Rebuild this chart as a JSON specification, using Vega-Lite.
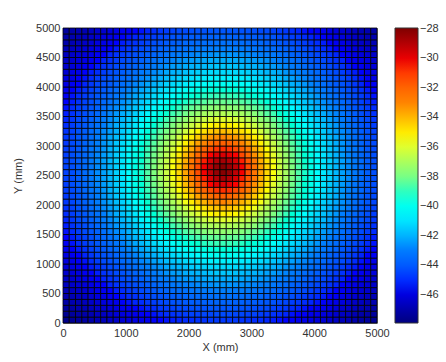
{"$schema":"https://vega.github.io/schema/vega-lite/v6.json","width":314,"height":295,"autosize":"none","padding":{"left":63,"top":28,"right":69,"bottom":39},"background":"white",
"data":{"values":[
{"y":0,"y2":100,"v":[-47.7,-47.5,-47.3,-47.2,-47.0,-46.8,-46.7,-46.5,-46.4,-46.2,-46.1,-45.9,-45.8,-45.7,-45.5,-45.4,-45.3,-45.2,-45.1,-45.0,-45.0,-44.9,-44.9,-44.8,-44.8,-44.8,-44.8,-44.8,-44.9,-44.9,-45.0,-45.0,-45.1,-45.2,-45.3,-45.4,-45.5,-45.7,-45.8,-45.9,-46.1,-46.2,-46.4,-46.5,-46.7,-46.8,-47.0,-47.2,-47.3,-47.5]},
{"y":100,"y2":200,"v":[-47.5,-47.3,-47.1,-47.0,-46.8,-46.6,-46.5,-46.3,-46.1,-46.0,-45.8,-45.7,-45.5,-45.4,-45.3,-45.1,-45.0,-44.9,-44.8,-44.7,-44.6,-44.6,-44.5,-44.5,-44.4,-44.4,-44.4,-44.5,-44.5,-44.6,-44.6,-44.7,-44.8,-44.9,-45.0,-45.1,-45.3,-45.4,-45.5,-45.7,-45.8,-46.0,-46.1,-46.3,-46.5,-46.6,-46.8,-47.0,-47.1,-47.3]},
{"y":200,"y2":300,"v":[-47.3,-47.1,-46.9,-46.8,-46.6,-46.4,-46.3,-46.1,-45.9,-45.7,-45.6,-45.4,-45.3,-45.1,-45.0,-44.8,-44.7,-44.6,-44.4,-44.4,-44.3,-44.2,-44.2,-44.1,-44.1,-44.1,-44.1,-44.1,-44.2,-44.2,-44.3,-44.4,-44.4,-44.6,-44.7,-44.8,-45.0,-45.1,-45.3,-45.4,-45.6,-45.7,-45.9,-46.1,-46.3,-46.4,-46.6,-46.8,-46.9,-47.1]},
{"y":300,"y2":400,"v":[-47.1,-46.9,-46.8,-46.6,-46.4,-46.2,-46.0,-45.8,-45.7,-45.5,-45.3,-45.1,-45.0,-44.8,-44.7,-44.5,-44.4,-44.2,-44.1,-44.0,-43.9,-43.9,-43.8,-43.8,-43.7,-43.7,-43.7,-43.8,-43.8,-43.9,-43.9,-44.0,-44.1,-44.2,-44.4,-44.5,-44.7,-44.8,-45.0,-45.1,-45.3,-45.5,-45.7,-45.8,-46.0,-46.2,-46.4,-46.6,-46.8,-46.9]},
{"y":400,"y2":500,"v":[-47.0,-46.8,-46.6,-46.4,-46.2,-46.0,-45.8,-45.6,-45.4,-45.2,-45.0,-44.9,-44.7,-44.5,-44.3,-44.2,-44.0,-43.9,-43.8,-43.6,-43.6,-43.5,-43.4,-43.4,-43.3,-43.3,-43.3,-43.4,-43.4,-43.5,-43.6,-43.6,-43.8,-43.9,-44.0,-44.2,-44.3,-44.5,-44.7,-44.9,-45.0,-45.2,-45.4,-45.6,-45.8,-46.0,-46.2,-46.4,-46.6,-46.8]},
{"y":500,"y2":600,"v":[-46.8,-46.6,-46.4,-46.2,-46.0,-45.8,-45.6,-45.4,-45.2,-45.0,-44.8,-44.6,-44.4,-44.2,-44.0,-43.8,-43.7,-43.5,-43.4,-43.3,-43.2,-43.1,-43.0,-43.0,-42.9,-42.9,-42.9,-43.0,-43.0,-43.1,-43.2,-43.3,-43.4,-43.5,-43.7,-43.8,-44.0,-44.2,-44.4,-44.6,-44.8,-45.0,-45.2,-45.4,-45.6,-45.8,-46.0,-46.2,-46.4,-46.6]},
{"y":600,"y2":700,"v":[-46.6,-46.4,-46.2,-46.0,-45.8,-45.6,-45.4,-45.1,-44.9,-44.7,-44.5,-44.3,-44.1,-43.9,-43.7,-43.5,-43.3,-43.1,-43.0,-42.9,-42.8,-42.7,-42.6,-42.6,-42.5,-42.5,-42.5,-42.6,-42.6,-42.7,-42.8,-42.9,-43.0,-43.1,-43.3,-43.5,-43.7,-43.9,-44.1,-44.3,-44.5,-44.7,-44.9,-45.1,-45.4,-45.6,-45.8,-46.0,-46.2,-46.4]},
{"y":700,"y2":800,"v":[-46.5,-46.3,-46.0,-45.8,-45.6,-45.4,-45.1,-44.9,-44.7,-44.4,-44.2,-44.0,-43.8,-43.5,-43.3,-43.1,-43.0,-42.8,-42.6,-42.5,-42.4,-42.3,-42.2,-42.1,-42.1,-42.1,-42.1,-42.1,-42.2,-42.3,-42.4,-42.5,-42.6,-42.8,-43.0,-43.1,-43.3,-43.5,-43.8,-44.0,-44.2,-44.4,-44.7,-44.9,-45.1,-45.4,-45.6,-45.8,-46.0,-46.3]},
{"y":800,"y2":900,"v":[-46.3,-46.1,-45.9,-45.6,-45.4,-45.2,-44.9,-44.7,-44.4,-44.2,-43.9,-43.7,-43.5,-43.2,-43.0,-42.8,-42.6,-42.4,-42.3,-42.1,-42.0,-41.9,-41.8,-41.7,-41.6,-41.6,-41.6,-41.7,-41.8,-41.9,-42.0,-42.1,-42.3,-42.4,-42.6,-42.8,-43.0,-43.2,-43.5,-43.7,-43.9,-44.2,-44.4,-44.7,-44.9,-45.2,-45.4,-45.6,-45.9,-46.1]},
{"y":900,"y2":1000,"v":[-46.2,-45.9,-45.7,-45.4,-45.2,-45.0,-44.7,-44.4,-44.2,-43.9,-43.6,-43.4,-43.1,-42.9,-42.7,-42.5,-42.2,-42.0,-41.9,-41.7,-41.5,-41.4,-41.3,-41.2,-41.2,-41.2,-41.2,-41.2,-41.3,-41.4,-41.5,-41.7,-41.9,-42.0,-42.2,-42.5,-42.7,-42.9,-43.1,-43.4,-43.6,-43.9,-44.2,-44.4,-44.7,-45.0,-45.2,-45.4,-45.7,-45.9]},
{"y":1000,"y2":1100,"v":[-46.0,-45.8,-45.5,-45.3,-45.0,-44.7,-44.4,-44.2,-43.9,-43.6,-43.4,-43.1,-42.8,-42.6,-42.3,-42.1,-41.8,-41.6,-41.4,-41.2,-41.1,-40.9,-40.8,-40.7,-40.7,-40.7,-40.7,-40.7,-40.8,-40.9,-41.1,-41.2,-41.4,-41.6,-41.8,-42.1,-42.3,-42.6,-42.8,-43.1,-43.4,-43.6,-43.9,-44.2,-44.4,-44.7,-45.0,-45.3,-45.5,-45.8]},
{"y":1100,"y2":1200,"v":[-45.9,-45.6,-45.4,-45.1,-44.8,-44.5,-44.2,-44.0,-43.7,-43.4,-43.1,-42.8,-42.5,-42.2,-42.0,-41.7,-41.4,-41.2,-41.0,-40.8,-40.6,-40.4,-40.3,-40.1,-40.1,-40.1,-40.1,-40.1,-40.3,-40.4,-40.6,-40.8,-41.0,-41.2,-41.4,-41.7,-42.0,-42.2,-42.5,-42.8,-43.1,-43.4,-43.7,-44.0,-44.2,-44.5,-44.8,-45.1,-45.4,-45.6]},
{"y":1200,"y2":1300,"v":[-45.7,-45.5,-45.2,-44.9,-44.6,-44.3,-44.0,-43.7,-43.4,-43.1,-42.8,-42.5,-42.2,-41.9,-41.6,-41.3,-41.0,-40.8,-40.5,-40.2,-40.0,-39.9,-39.7,-39.6,-39.5,-39.5,-39.5,-39.6,-39.7,-39.9,-40.0,-40.2,-40.5,-40.8,-41.0,-41.3,-41.6,-41.9,-42.2,-42.5,-42.8,-43.1,-43.4,-43.7,-44.0,-44.3,-44.6,-44.9,-45.2,-45.5]},
{"y":1300,"y2":1400,"v":[-45.6,-45.3,-45.0,-44.7,-44.4,-44.1,-43.8,-43.5,-43.2,-42.9,-42.5,-42.2,-41.9,-41.5,-41.2,-40.9,-40.6,-40.3,-40.0,-39.7,-39.5,-39.3,-39.1,-39.0,-38.9,-38.9,-38.9,-39.0,-39.1,-39.3,-39.5,-39.7,-40.0,-40.3,-40.6,-40.9,-41.2,-41.5,-41.9,-42.2,-42.5,-42.9,-43.2,-43.5,-43.8,-44.1,-44.4,-44.7,-45.0,-45.3]},
{"y":1400,"y2":1500,"v":[-45.4,-45.2,-44.9,-44.6,-44.3,-43.9,-43.6,-43.3,-42.9,-42.6,-42.3,-41.9,-41.6,-41.2,-40.9,-40.5,-40.1,-39.8,-39.5,-39.2,-38.9,-38.7,-38.5,-38.3,-38.3,-38.2,-38.3,-38.3,-38.5,-38.7,-38.9,-39.2,-39.5,-39.8,-40.1,-40.5,-40.9,-41.2,-41.6,-41.9,-42.3,-42.6,-42.9,-43.3,-43.6,-43.9,-44.3,-44.6,-44.9,-45.2]},
{"y":1500,"y2":1600,"v":[-45.3,-45.0,-44.7,-44.4,-44.1,-43.8,-43.4,-43.0,-42.7,-42.4,-42.0,-41.6,-41.3,-40.9,-40.5,-40.1,-39.7,-39.3,-39.0,-38.6,-38.3,-38.1,-37.8,-37.7,-37.6,-37.5,-37.6,-37.7,-37.8,-38.1,-38.3,-38.6,-39.0,-39.3,-39.7,-40.1,-40.5,-40.9,-41.3,-41.6,-42.0,-42.4,-42.7,-43.0,-43.4,-43.8,-44.1,-44.4,-44.7,-45.0]},
{"y":1600,"y2":1700,"v":[-45.2,-44.9,-44.6,-44.3,-43.9,-43.6,-43.2,-42.8,-42.5,-42.1,-41.8,-41.4,-41.0,-40.6,-40.1,-39.7,-39.3,-38.8,-38.5,-38.1,-37.7,-37.4,-37.1,-37.0,-36.9,-36.8,-36.9,-37.0,-37.1,-37.4,-37.7,-38.1,-38.5,-38.8,-39.3,-39.7,-40.1,-40.6,-41.0,-41.4,-41.8,-42.1,-42.5,-42.8,-43.2,-43.6,-43.9,-44.3,-44.6,-44.9]},
{"y":1700,"y2":1800,"v":[-45.1,-44.8,-44.4,-44.1,-43.8,-43.4,-43.0,-42.7,-42.3,-41.9,-41.5,-41.1,-40.7,-40.2,-39.7,-39.3,-38.8,-38.3,-37.9,-37.5,-37.0,-36.7,-36.4,-36.2,-36.0,-36.0,-36.0,-36.2,-36.4,-36.7,-37.0,-37.5,-37.9,-38.3,-38.8,-39.3,-39.7,-40.2,-40.7,-41.1,-41.5,-41.9,-42.3,-42.7,-43.0,-43.4,-43.8,-44.1,-44.4,-44.8]},
{"y":1800,"y2":1900,"v":[-45.0,-44.7,-44.3,-44.0,-43.6,-43.3,-42.9,-42.5,-42.1,-41.7,-41.3,-40.9,-40.4,-39.9,-39.4,-38.9,-38.4,-37.9,-37.3,-36.9,-36.4,-36.0,-35.6,-35.3,-35.1,-35.1,-35.1,-35.3,-35.6,-36.0,-36.4,-36.9,-37.3,-37.9,-38.4,-38.9,-39.4,-39.9,-40.4,-40.9,-41.3,-41.7,-42.1,-42.5,-42.9,-43.3,-43.6,-44.0,-44.3,-44.7]},
{"y":1900,"y2":2000,"v":[-44.9,-44.6,-44.2,-43.9,-43.5,-43.1,-42.7,-42.4,-42.0,-41.5,-41.1,-40.6,-40.1,-39.6,-39.1,-38.5,-38.0,-37.4,-36.9,-36.3,-35.7,-35.2,-34.8,-34.4,-34.2,-34.1,-34.2,-34.4,-34.8,-35.2,-35.7,-36.3,-36.9,-37.4,-38.0,-38.5,-39.1,-39.6,-40.1,-40.6,-41.1,-41.5,-42.0,-42.4,-42.7,-43.1,-43.5,-43.9,-44.2,-44.6]},
{"y":2000,"y2":2100,"v":[-44.8,-44.5,-44.1,-43.8,-43.4,-43.0,-42.6,-42.2,-41.8,-41.4,-40.9,-40.4,-39.9,-39.3,-38.8,-38.2,-37.6,-37.0,-36.3,-35.6,-35.0,-34.4,-33.9,-33.4,-33.2,-33.0,-33.2,-33.4,-33.9,-34.4,-35.0,-35.6,-36.3,-37.0,-37.6,-38.2,-38.8,-39.3,-39.9,-40.4,-40.9,-41.4,-41.8,-42.2,-42.6,-43.0,-43.4,-43.8,-44.1,-44.5]},
{"y":2100,"y2":2200,"v":[-44.8,-44.4,-44.1,-43.7,-43.3,-42.9,-42.5,-42.1,-41.6,-41.2,-40.7,-40.2,-39.6,-39.1,-38.5,-37.9,-37.2,-36.5,-35.9,-35.1,-34.3,-33.6,-33.0,-32.4,-32.0,-31.9,-32.0,-32.4,-33.0,-33.6,-34.3,-35.1,-35.9,-36.5,-37.2,-37.9,-38.5,-39.1,-39.6,-40.2,-40.7,-41.2,-41.6,-42.1,-42.5,-42.9,-43.3,-43.7,-44.1,-44.4]},
{"y":2200,"y2":2300,"v":[-44.7,-44.4,-44.0,-43.6,-43.2,-42.9,-42.5,-42.0,-41.6,-41.1,-40.6,-40.0,-39.5,-38.9,-38.3,-37.6,-36.9,-36.2,-35.4,-34.5,-33.7,-32.8,-32.0,-31.4,-30.9,-30.8,-30.9,-31.4,-32.0,-32.8,-33.7,-34.5,-35.4,-36.2,-36.9,-37.6,-38.3,-38.9,-39.5,-40.0,-40.6,-41.1,-41.6,-42.0,-42.5,-42.9,-43.2,-43.6,-44.0,-44.4]},
{"y":2300,"y2":2400,"v":[-44.7,-44.3,-43.9,-43.6,-43.2,-42.8,-42.4,-42.0,-41.5,-41.0,-40.5,-39.9,-39.4,-38.8,-38.1,-37.4,-36.7,-35.9,-35.0,-34.1,-33.2,-32.2,-31.3,-30.4,-29.9,-29.7,-29.9,-30.4,-31.3,-32.2,-33.2,-34.1,-35.0,-35.9,-36.7,-37.4,-38.1,-38.8,-39.4,-39.9,-40.5,-41.0,-41.5,-42.0,-42.4,-42.8,-43.2,-43.6,-43.9,-44.3]},
{"y":2400,"y2":2500,"v":[-44.6,-44.3,-43.9,-43.5,-43.1,-42.7,-42.3,-41.9,-41.4,-41.0,-40.4,-39.9,-39.3,-38.6,-38.0,-37.2,-36.5,-35.6,-34.8,-33.8,-32.7,-31.7,-30.6,-29.7,-29.0,-28.7,-29.0,-29.7,-30.6,-31.7,-32.7,-33.8,-34.8,-35.6,-36.5,-37.2,-38.0,-38.6,-39.3,-39.9,-40.4,-41.0,-41.4,-41.9,-42.3,-42.7,-43.1,-43.5,-43.9,-44.3]},
{"y":2500,"y2":2600,"v":[-44.6,-44.3,-43.9,-43.5,-43.1,-42.7,-42.3,-41.9,-41.4,-40.9,-40.4,-39.8,-39.2,-38.6,-37.9,-37.1,-36.4,-35.5,-34.6,-33.6,-32.5,-31.4,-30.2,-29.2,-28.4,-28.1,-28.4,-29.2,-30.2,-31.4,-32.5,-33.6,-34.6,-35.5,-36.4,-37.1,-37.9,-38.6,-39.2,-39.8,-40.4,-40.9,-41.4,-41.9,-42.3,-42.7,-43.1,-43.5,-43.9,-44.3]},
{"y":2600,"y2":2700,"v":[-44.6,-44.3,-43.9,-43.5,-43.1,-42.7,-42.3,-41.9,-41.4,-40.9,-40.4,-39.8,-39.2,-38.6,-37.9,-37.1,-36.4,-35.5,-34.6,-33.6,-32.5,-31.4,-30.2,-29.2,-28.4,-28.1,-28.4,-29.2,-30.2,-31.4,-32.5,-33.6,-34.6,-35.5,-36.4,-37.1,-37.9,-38.6,-39.2,-39.8,-40.4,-40.9,-41.4,-41.9,-42.3,-42.7,-43.1,-43.5,-43.9,-44.3]},
{"y":2700,"y2":2800,"v":[-44.6,-44.3,-43.9,-43.5,-43.1,-42.7,-42.3,-41.9,-41.4,-41.0,-40.4,-39.9,-39.3,-38.6,-38.0,-37.2,-36.5,-35.6,-34.8,-33.8,-32.7,-31.7,-30.6,-29.7,-29.0,-28.7,-29.0,-29.7,-30.6,-31.7,-32.7,-33.8,-34.8,-35.6,-36.5,-37.2,-38.0,-38.6,-39.3,-39.9,-40.4,-41.0,-41.4,-41.9,-42.3,-42.7,-43.1,-43.5,-43.9,-44.3]},
{"y":2800,"y2":2900,"v":[-44.7,-44.3,-43.9,-43.6,-43.2,-42.8,-42.4,-42.0,-41.5,-41.0,-40.5,-39.9,-39.4,-38.8,-38.1,-37.4,-36.7,-35.9,-35.0,-34.1,-33.2,-32.2,-31.3,-30.4,-29.9,-29.7,-29.9,-30.4,-31.3,-32.2,-33.2,-34.1,-35.0,-35.9,-36.7,-37.4,-38.1,-38.8,-39.4,-39.9,-40.5,-41.0,-41.5,-42.0,-42.4,-42.8,-43.2,-43.6,-43.9,-44.3]},
{"y":2900,"y2":3000,"v":[-44.7,-44.4,-44.0,-43.6,-43.2,-42.9,-42.5,-42.0,-41.6,-41.1,-40.6,-40.0,-39.5,-38.9,-38.3,-37.6,-36.9,-36.2,-35.4,-34.5,-33.7,-32.8,-32.0,-31.4,-30.9,-30.8,-30.9,-31.4,-32.0,-32.8,-33.7,-34.5,-35.4,-36.2,-36.9,-37.6,-38.3,-38.9,-39.5,-40.0,-40.6,-41.1,-41.6,-42.0,-42.5,-42.9,-43.2,-43.6,-44.0,-44.4]},
{"y":3000,"y2":3100,"v":[-44.8,-44.4,-44.1,-43.7,-43.3,-42.9,-42.5,-42.1,-41.6,-41.2,-40.7,-40.2,-39.6,-39.1,-38.5,-37.9,-37.2,-36.5,-35.9,-35.1,-34.3,-33.6,-33.0,-32.4,-32.0,-31.9,-32.0,-32.4,-33.0,-33.6,-34.3,-35.1,-35.9,-36.5,-37.2,-37.9,-38.5,-39.1,-39.6,-40.2,-40.7,-41.2,-41.6,-42.1,-42.5,-42.9,-43.3,-43.7,-44.1,-44.4]},
{"y":3100,"y2":3200,"v":[-44.8,-44.5,-44.1,-43.8,-43.4,-43.0,-42.6,-42.2,-41.8,-41.4,-40.9,-40.4,-39.9,-39.3,-38.8,-38.2,-37.6,-37.0,-36.3,-35.6,-35.0,-34.4,-33.9,-33.4,-33.2,-33.0,-33.2,-33.4,-33.9,-34.4,-35.0,-35.6,-36.3,-37.0,-37.6,-38.2,-38.8,-39.3,-39.9,-40.4,-40.9,-41.4,-41.8,-42.2,-42.6,-43.0,-43.4,-43.8,-44.1,-44.5]},
{"y":3200,"y2":3300,"v":[-44.9,-44.6,-44.2,-43.9,-43.5,-43.1,-42.7,-42.4,-42.0,-41.5,-41.1,-40.6,-40.1,-39.6,-39.1,-38.5,-38.0,-37.4,-36.9,-36.3,-35.7,-35.2,-34.8,-34.4,-34.2,-34.1,-34.2,-34.4,-34.8,-35.2,-35.7,-36.3,-36.9,-37.4,-38.0,-38.5,-39.1,-39.6,-40.1,-40.6,-41.1,-41.5,-42.0,-42.4,-42.7,-43.1,-43.5,-43.9,-44.2,-44.6]},
{"y":3300,"y2":3400,"v":[-45.0,-44.7,-44.3,-44.0,-43.6,-43.3,-42.9,-42.5,-42.1,-41.7,-41.3,-40.9,-40.4,-39.9,-39.4,-38.9,-38.4,-37.9,-37.3,-36.9,-36.4,-36.0,-35.6,-35.3,-35.1,-35.1,-35.1,-35.3,-35.6,-36.0,-36.4,-36.9,-37.3,-37.9,-38.4,-38.9,-39.4,-39.9,-40.4,-40.9,-41.3,-41.7,-42.1,-42.5,-42.9,-43.3,-43.6,-44.0,-44.3,-44.7]},
{"y":3400,"y2":3500,"v":[-45.1,-44.8,-44.4,-44.1,-43.8,-43.4,-43.0,-42.7,-42.3,-41.9,-41.5,-41.1,-40.7,-40.2,-39.7,-39.3,-38.8,-38.3,-37.9,-37.5,-37.0,-36.7,-36.4,-36.2,-36.0,-36.0,-36.0,-36.2,-36.4,-36.7,-37.0,-37.5,-37.9,-38.3,-38.8,-39.3,-39.7,-40.2,-40.7,-41.1,-41.5,-41.9,-42.3,-42.7,-43.0,-43.4,-43.8,-44.1,-44.4,-44.8]},
{"y":3500,"y2":3600,"v":[-45.2,-44.9,-44.6,-44.3,-43.9,-43.6,-43.2,-42.8,-42.5,-42.1,-41.8,-41.4,-41.0,-40.6,-40.1,-39.7,-39.3,-38.8,-38.5,-38.1,-37.7,-37.4,-37.1,-37.0,-36.9,-36.8,-36.9,-37.0,-37.1,-37.4,-37.7,-38.1,-38.5,-38.8,-39.3,-39.7,-40.1,-40.6,-41.0,-41.4,-41.8,-42.1,-42.5,-42.8,-43.2,-43.6,-43.9,-44.3,-44.6,-44.9]},
{"y":3600,"y2":3700,"v":[-45.3,-45.0,-44.7,-44.4,-44.1,-43.8,-43.4,-43.0,-42.7,-42.4,-42.0,-41.6,-41.3,-40.9,-40.5,-40.1,-39.7,-39.3,-39.0,-38.6,-38.3,-38.1,-37.8,-37.7,-37.6,-37.5,-37.6,-37.7,-37.8,-38.1,-38.3,-38.6,-39.0,-39.3,-39.7,-40.1,-40.5,-40.9,-41.3,-41.6,-42.0,-42.4,-42.7,-43.0,-43.4,-43.8,-44.1,-44.4,-44.7,-45.0]},
{"y":3700,"y2":3800,"v":[-45.4,-45.2,-44.9,-44.6,-44.3,-43.9,-43.6,-43.3,-42.9,-42.6,-42.3,-41.9,-41.6,-41.2,-40.9,-40.5,-40.1,-39.8,-39.5,-39.2,-38.9,-38.7,-38.5,-38.3,-38.3,-38.2,-38.3,-38.3,-38.5,-38.7,-38.9,-39.2,-39.5,-39.8,-40.1,-40.5,-40.9,-41.2,-41.6,-41.9,-42.3,-42.6,-42.9,-43.3,-43.6,-43.9,-44.3,-44.6,-44.9,-45.2]},
{"y":3800,"y2":3900,"v":[-45.6,-45.3,-45.0,-44.7,-44.4,-44.1,-43.8,-43.5,-43.2,-42.9,-42.5,-42.2,-41.9,-41.5,-41.2,-40.9,-40.6,-40.3,-40.0,-39.7,-39.5,-39.3,-39.1,-39.0,-38.9,-38.9,-38.9,-39.0,-39.1,-39.3,-39.5,-39.7,-40.0,-40.3,-40.6,-40.9,-41.2,-41.5,-41.9,-42.2,-42.5,-42.9,-43.2,-43.5,-43.8,-44.1,-44.4,-44.7,-45.0,-45.3]},
{"y":3900,"y2":4000,"v":[-45.7,-45.5,-45.2,-44.9,-44.6,-44.3,-44.0,-43.7,-43.4,-43.1,-42.8,-42.5,-42.2,-41.9,-41.6,-41.3,-41.0,-40.8,-40.5,-40.2,-40.0,-39.9,-39.7,-39.6,-39.5,-39.5,-39.5,-39.6,-39.7,-39.9,-40.0,-40.2,-40.5,-40.8,-41.0,-41.3,-41.6,-41.9,-42.2,-42.5,-42.8,-43.1,-43.4,-43.7,-44.0,-44.3,-44.6,-44.9,-45.2,-45.5]},
{"y":4000,"y2":4100,"v":[-45.9,-45.6,-45.4,-45.1,-44.8,-44.5,-44.2,-44.0,-43.7,-43.4,-43.1,-42.8,-42.5,-42.2,-42.0,-41.7,-41.4,-41.2,-41.0,-40.8,-40.6,-40.4,-40.3,-40.1,-40.1,-40.1,-40.1,-40.1,-40.3,-40.4,-40.6,-40.8,-41.0,-41.2,-41.4,-41.7,-42.0,-42.2,-42.5,-42.8,-43.1,-43.4,-43.7,-44.0,-44.2,-44.5,-44.8,-45.1,-45.4,-45.6]},
{"y":4100,"y2":4200,"v":[-46.0,-45.8,-45.5,-45.3,-45.0,-44.7,-44.4,-44.2,-43.9,-43.6,-43.4,-43.1,-42.8,-42.6,-42.3,-42.1,-41.8,-41.6,-41.4,-41.2,-41.1,-40.9,-40.8,-40.7,-40.7,-40.7,-40.7,-40.7,-40.8,-40.9,-41.1,-41.2,-41.4,-41.6,-41.8,-42.1,-42.3,-42.6,-42.8,-43.1,-43.4,-43.6,-43.9,-44.2,-44.4,-44.7,-45.0,-45.3,-45.5,-45.8]},
{"y":4200,"y2":4300,"v":[-46.2,-45.9,-45.7,-45.4,-45.2,-45.0,-44.7,-44.4,-44.2,-43.9,-43.6,-43.4,-43.1,-42.9,-42.7,-42.5,-42.2,-42.0,-41.9,-41.7,-41.5,-41.4,-41.3,-41.2,-41.2,-41.2,-41.2,-41.2,-41.3,-41.4,-41.5,-41.7,-41.9,-42.0,-42.2,-42.5,-42.7,-42.9,-43.1,-43.4,-43.6,-43.9,-44.2,-44.4,-44.7,-45.0,-45.2,-45.4,-45.7,-45.9]},
{"y":4300,"y2":4400,"v":[-46.3,-46.1,-45.9,-45.6,-45.4,-45.2,-44.9,-44.7,-44.4,-44.2,-43.9,-43.7,-43.5,-43.2,-43.0,-42.8,-42.6,-42.4,-42.3,-42.1,-42.0,-41.9,-41.8,-41.7,-41.6,-41.6,-41.6,-41.7,-41.8,-41.9,-42.0,-42.1,-42.3,-42.4,-42.6,-42.8,-43.0,-43.2,-43.5,-43.7,-43.9,-44.2,-44.4,-44.7,-44.9,-45.2,-45.4,-45.6,-45.9,-46.1]},
{"y":4400,"y2":4500,"v":[-46.5,-46.3,-46.0,-45.8,-45.6,-45.4,-45.1,-44.9,-44.7,-44.4,-44.2,-44.0,-43.8,-43.5,-43.3,-43.1,-43.0,-42.8,-42.6,-42.5,-42.4,-42.3,-42.2,-42.1,-42.1,-42.1,-42.1,-42.1,-42.2,-42.3,-42.4,-42.5,-42.6,-42.8,-43.0,-43.1,-43.3,-43.5,-43.8,-44.0,-44.2,-44.4,-44.7,-44.9,-45.1,-45.4,-45.6,-45.8,-46.0,-46.3]},
{"y":4500,"y2":4600,"v":[-46.6,-46.4,-46.2,-46.0,-45.8,-45.6,-45.4,-45.1,-44.9,-44.7,-44.5,-44.3,-44.1,-43.9,-43.7,-43.5,-43.3,-43.1,-43.0,-42.9,-42.8,-42.7,-42.6,-42.6,-42.5,-42.5,-42.5,-42.6,-42.6,-42.7,-42.8,-42.9,-43.0,-43.1,-43.3,-43.5,-43.7,-43.9,-44.1,-44.3,-44.5,-44.7,-44.9,-45.1,-45.4,-45.6,-45.8,-46.0,-46.2,-46.4]},
{"y":4600,"y2":4700,"v":[-46.8,-46.6,-46.4,-46.2,-46.0,-45.8,-45.6,-45.4,-45.2,-45.0,-44.8,-44.6,-44.4,-44.2,-44.0,-43.8,-43.7,-43.5,-43.4,-43.3,-43.2,-43.1,-43.0,-43.0,-42.9,-42.9,-42.9,-43.0,-43.0,-43.1,-43.2,-43.3,-43.4,-43.5,-43.7,-43.8,-44.0,-44.2,-44.4,-44.6,-44.8,-45.0,-45.2,-45.4,-45.6,-45.8,-46.0,-46.2,-46.4,-46.6]},
{"y":4700,"y2":4800,"v":[-47.0,-46.8,-46.6,-46.4,-46.2,-46.0,-45.8,-45.6,-45.4,-45.2,-45.0,-44.9,-44.7,-44.5,-44.3,-44.2,-44.0,-43.9,-43.8,-43.6,-43.6,-43.5,-43.4,-43.4,-43.3,-43.3,-43.3,-43.4,-43.4,-43.5,-43.6,-43.6,-43.8,-43.9,-44.0,-44.2,-44.3,-44.5,-44.7,-44.9,-45.0,-45.2,-45.4,-45.6,-45.8,-46.0,-46.2,-46.4,-46.6,-46.8]},
{"y":4800,"y2":4900,"v":[-47.1,-46.9,-46.8,-46.6,-46.4,-46.2,-46.0,-45.8,-45.7,-45.5,-45.3,-45.1,-45.0,-44.8,-44.7,-44.5,-44.4,-44.2,-44.1,-44.0,-43.9,-43.9,-43.8,-43.8,-43.7,-43.7,-43.7,-43.8,-43.8,-43.9,-43.9,-44.0,-44.1,-44.2,-44.4,-44.5,-44.7,-44.8,-45.0,-45.1,-45.3,-45.5,-45.7,-45.8,-46.0,-46.2,-46.4,-46.6,-46.8,-46.9]},
{"y":4900,"y2":5000,"v":[-47.3,-47.1,-46.9,-46.8,-46.6,-46.4,-46.3,-46.1,-45.9,-45.7,-45.6,-45.4,-45.3,-45.1,-45.0,-44.8,-44.7,-44.6,-44.4,-44.4,-44.3,-44.2,-44.2,-44.1,-44.1,-44.1,-44.1,-44.1,-44.2,-44.2,-44.3,-44.4,-44.4,-44.6,-44.7,-44.8,-45.0,-45.1,-45.3,-45.4,-45.6,-45.7,-45.9,-46.1,-46.3,-46.4,-46.6,-46.8,-46.9,-47.1]}
]},
"transform":[{"flatten":["v"]},{"window":[{"op":"row_number","as":"i"}],"groupby":["y"]},
{"lookup":"i","from":{"data":{"values":[{"i":1,"x":0,"x2":100},{"i":2,"x":100,"x2":200},{"i":3,"x":200,"x2":300},{"i":4,"x":300,"x2":400},{"i":5,"x":400,"x2":500},{"i":6,"x":500,"x2":600},{"i":7,"x":600,"x2":700},{"i":8,"x":700,"x2":800},{"i":9,"x":800,"x2":900},{"i":10,"x":900,"x2":1000},{"i":11,"x":1000,"x2":1100},{"i":12,"x":1100,"x2":1200},{"i":13,"x":1200,"x2":1300},{"i":14,"x":1300,"x2":1400},{"i":15,"x":1400,"x2":1500},{"i":16,"x":1500,"x2":1600},{"i":17,"x":1600,"x2":1700},{"i":18,"x":1700,"x2":1800},{"i":19,"x":1800,"x2":1900},{"i":20,"x":1900,"x2":2000},{"i":21,"x":2000,"x2":2100},{"i":22,"x":2100,"x2":2200},{"i":23,"x":2200,"x2":2300},{"i":24,"x":2300,"x2":2400},{"i":25,"x":2400,"x2":2500},{"i":26,"x":2500,"x2":2600},{"i":27,"x":2600,"x2":2700},{"i":28,"x":2700,"x2":2800},{"i":29,"x":2800,"x2":2900},{"i":30,"x":2900,"x2":3000},{"i":31,"x":3000,"x2":3100},{"i":32,"x":3100,"x2":3200},{"i":33,"x":3200,"x2":3300},{"i":34,"x":3300,"x2":3400},{"i":35,"x":3400,"x2":3500},{"i":36,"x":3500,"x2":3600},{"i":37,"x":3600,"x2":3700},{"i":38,"x":3700,"x2":3800},{"i":39,"x":3800,"x2":3900},{"i":40,"x":3900,"x2":4000},{"i":41,"x":4000,"x2":4100},{"i":42,"x":4100,"x2":4200},{"i":43,"x":4200,"x2":4300},{"i":44,"x":4300,"x2":4400},{"i":45,"x":4400,"x2":4500},{"i":46,"x":4500,"x2":4600},{"i":47,"x":4600,"x2":4700},{"i":48,"x":4700,"x2":4800},{"i":49,"x":4800,"x2":4900},{"i":50,"x":4900,"x2":5000}]},"key":"i","fields":["x","x2"]}}],
"mark":{"type":"rect","stroke":"#000000","strokeWidth":1,"strokeOpacity":0.8},
"encoding":{
"x":{"field":"x","type":"quantitative","scale":{"domain":[0,5000],"nice":false},"axis":{"title":"X (mm)","values":[0,1000,2000,3000,4000,5000],"format":"d","labelFlush":false,"grid":false,"ticks":false,"domain":false,"labelPadding":4,"titlePadding":3,"labelFont":"Liberation Sans","titleFont":"Liberation Sans","labelFontSize":11,"titleFontSize":11,"titleFontWeight":"normal","labelColor":"#333333","titleColor":"#333333"}},
"x2":{"field":"x2"},
"y":{"field":"y","type":"quantitative","scale":{"domain":[0,5000],"nice":false},"axis":{"title":"Y (mm)","values":[0,500,1000,1500,2000,2500,3000,3500,4000,4500,5000],"format":"d","labelFlush":false,"grid":false,"ticks":false,"domain":false,"labelPadding":3,"titlePadding":12,"labelFont":"Liberation Sans","titleFont":"Liberation Sans","labelFontSize":11,"titleFontSize":11,"titleFontWeight":"normal","labelColor":"#333333","titleColor":"#333333"}},
"y2":{"field":"y2"},
"color":{"field":"v","type":"quantitative","scale":{"domain":[-47.9,-45.4,-42.9,-40.4,-37.9,-35.4,-32.9,-30.4,-27.95],"range":["#00007f","#0000ff","#007fff","#00ffff","#7fff7f","#ffff00","#ff7f00","#ff0000","#7f0000"]},
"legend":{"title":null,"orient":"right","offset":18,"gradientLength":295,"gradientThickness":23,"values":[-46,-44,-42,-40,-38,-36,-34,-32,-30,-28],"format":"d","labelFont":"Liberation Sans","labelFontSize":11,"labelColor":"#333333","labelOverlap":false,"gradientStrokeColor":"#333333","gradientStrokeWidth":1}}
},
"config":{"view":{"stroke":"#777777","strokeWidth":1}}
}
